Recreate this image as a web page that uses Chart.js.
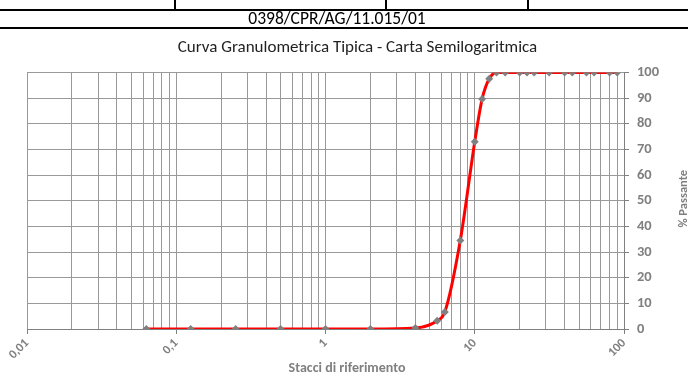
<!DOCTYPE html>
<html>
<head>
<meta charset="utf-8">
<script src="https://cdn.jsdelivr.net/npm/chart.js@4"></script>
<style>
  body { margin: 0; background: #fff; }
  #wrap { position: relative; width: 688px; height: 376px; overflow: hidden; font-family: Carlito, Lato, "Liberation Sans", sans-serif; }
  #chart { position: absolute; left: 0; top: 0; }
  .hline { position: absolute; left: 0; width: 688px; height: 2px; background: #000; }
  .vline { position: absolute; top: 0; width: 2px; height: 10px; background: #000; }
  #code { position: absolute; left: 0; width: 674px; top: 9px; text-align: center; font-size: 17.5px; line-height: 19px; color: #000; }
</style>
</head>
<body>
<div id="wrap">
  <canvas id="chart" width="688" height="376"></canvas>
  <div class="vline" style="left:174px"></div>
  <div class="vline" style="left:385px"></div>
  <div class="vline" style="left:527px"></div>
  <div class="hline" style="top:9px"></div>
  <div id="code">0398/CPR/AG/11.015/01</div>
  <div class="hline" style="top:27px"></div>
</div>
<script>
// sieve sizes (mm) and % passing
const sieves = [0.063, 0.125, 0.25, 0.5, 1, 2, 4, 5.6, 6.3, 8, 10, 11.2, 12.5, 14, 16, 20, 22.4, 25, 31.5, 40, 45, 56, 63, 80, 90];
const passing = [0, 0, 0, 0, 0, 0, 0.4, 3.2, 6.6, 34.5, 73, 89.6, 97.5, 100, 100, 100, 100, 100, 100, 100, 100, 100, 100, 100, 100];

const decades = [0.01, 0.1, 1, 10, 100];
const xTickLabels = ['0,01', '0,1', '1', '10', '100'];
const yTicks = [0, 10, 20, 30, 40, 50, 60, 70, 80, 90, 100];

const gray = '#808080';
const gridGray = '#999999';
const fontFam = 'Carlito, Lato, "Liberation Sans", sans-serif';

// all 1..9 x 10^n positions for the log grid
let logTicks = [];
for (let i = 0; i < decades.length - 1; i++) {
    for (let m = 1; m < 10; m++) {
        logTicks.push(+(decades[i] * m).toPrecision(3));
    }
}
logTicks.push(decades[decades.length - 1]);

const points = sieves.map(function (s, i) { return { x: s, y: passing[i] }; });

// axis titles drawn by hand: the y one reads bottom-to-top on the right side
const axisTitles = {
    id: 'axisTitles',
    afterDraw(chart) {
        const c = chart.ctx;
        const area = chart.chartArea;
        c.save();
        c.fillStyle = gray;
        c.textAlign = 'center';
        c.textBaseline = 'middle';
        c.font = 'bold 14px ' + fontFam;
        c.fillText('Stacci di riferimento', 347, 368);
        c.translate(684, (area.top + area.bottom) / 2 - 2);
        c.rotate(-Math.PI / 2);
        c.font = 'bold 12.5px ' + fontFam;
        c.fillText('% Passante', 0, 0);
        c.restore();
    }
};

Chart.defaults.font.family = fontFam;

let ctx = document.getElementById('chart').getContext('2d');
let myChart = new Chart(ctx, {
    type: 'scatter',
    data: {
        datasets: [{
            label: '% Passante',
            data: points,
            showLine: true,
            borderColor: '#ff0000',
            borderWidth: 3,
            cubicInterpolationMode: 'monotone',
            pointStyle: 'rectRot',
            pointRadius: 4,
            pointBackgroundColor: gray,
            pointBorderColor: gray,
            pointBorderWidth: 0
        }]
    },
    options: {
        responsive: false,
        animation: false,
        layout: { padding: { top: 36, left: 27, right: 0, bottom: 0 } },
        plugins: {
            legend: { display: false },
            tooltip: { enabled: false },
            title: {
                display: true,
                text: 'Curva Granulometrica Tipica - Carta Semilogaritmica',
                color: '#222',
                font: { size: 17, weight: 'normal' },
                padding: { top: 2, bottom: 14 }
            }
        },
        scales: {
            x: {
                type: 'logarithmic',
                min: 0.01,
                max: 100,
                afterBuildTicks: function (scale) {
                    scale.ticks = logTicks.map(function (v) { return { value: v }; });
                },
                afterFit: function (scale) { scale.height = 47; },
                border: { color: gray, width: 1 },
                grid: {
                    color: gridGray,
                    tickLength: 5,
                    tickColor: function (c) {
                        return decades.indexOf(c.tick.value) >= 0 ? gray : 'rgba(0,0,0,0)';
                    }
                },
                ticks: {
                    autoSkip: false,
                    minRotation: 45,
                    maxRotation: 45,
                    padding: 2,
                    color: gray,
                    font: { size: 12.5, weight: 'bold' },
                    callback: function (v) {
                        const i = decades.indexOf(v);
                        return i >= 0 ? xTickLabels[i] : '';
                    }
                }
            },
            y: {
                position: 'right',
                min: 0,
                max: 100,
                afterBuildTicks: function (scale) {
                    scale.ticks = yTicks.map(function (v) { return { value: v }; });
                },
                afterFit: function (scale) { scale.width = 64; },
                border: { color: gray, width: 1 },
                grid: { color: gridGray, tickLength: 5, tickColor: gray },
                ticks: {
                    padding: 8,
                    color: gray,
                    font: { size: 14.5, weight: 'bold' }
                }
            }
        }
    },
    plugins: [axisTitles]
});
</script>
</body>
</html>
